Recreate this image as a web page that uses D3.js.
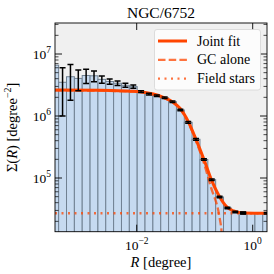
<!DOCTYPE html>
<html>
<head>
<meta charset="utf-8">
<script src="https://cdn.jsdelivr.net/npm/d3@7"></script>
<style>
  body { margin: 0; background: #fff; }
  text { font-family: "Liberation Serif", "DejaVu Serif", serif; fill: #000; }
</style>
</head>
<body>
<svg id="chart" width="274" height="274"></svg>
<script>
// bin centres R [degree] and measured surface density
const binR = [0.000386, 0.000527, 0.000721, 0.000984, 0.001343, 0.001837, 0.002506,
  0.00342, 0.004677, 0.006383, 0.00873, 0.01191, 0.01626, 0.02223, 0.03034, 0.0414,
  0.05662, 0.07727, 0.1054, 0.1442, 0.1968, 0.2685, 0.3673, 0.5012, 0.6839, 0.9354,
  1.276, 1.742];
const sigma = [6.6e6, 3.5e6, 4.3e6, 4.04e6, 4.5e6, 4.45e6, 3.9e6, 3.6e6, 3.38e6, 3.13e6,
  2.98e6, 2.47e6, 2.26e6, 2.12e6, 1.97e6, 1.7e6, 1.25e6, 7.91e5, 4.21e5, 1.99e5, 9.4e4,
  4.94e4, 3.28e4, 2.83e4, 2.72e4, 2.72e4, 2.72e4, 2.7e4];
const sigmaErr = [0, 2.5e6, 2.5e6, 1.48e6, 1.15e6, 0.87e6, 0.52e6, 0.34e6, 0.29e6, 0.23e6,
  0.18e6, 0.08e6, 0.07e6, 0.06e6, 0.06e6, 0.05e6, 0.04e6, 2.4e4, 1.3e4, 6e3, 2.8e3,
  1.5e3, 1e3, 8e2, 8e2, 8e2, 8e2, 8e2];

// model curves
const fitR = [3.9e-4, 2.33e-3, 7.66e-3, 0.0114, 0.01932, 0.02875, 0.04276, 0.0558, 0.07762,
  0.1052, 0.1429, 0.191, 0.2698, 0.3605, 0.4699, 0.6998, 1.766];
const jointFit = [2.62e6, 2.6e6, 2.51e6, 2.47e6, 2.26e6, 2.0e6, 1.66e6, 1.33e6, 8.09e5,
  4.21e5, 2.05e5, 9.75e4, 4.94e4, 3.4e4, 2.94e4, 2.72e4, 2.7e4];
const gcR = [3.9e-4, 2.33e-3, 7.66e-3, 0.0114, 0.01932, 0.02875, 0.04276, 0.0558, 0.07762,
  0.1052, 0.1429, 0.191, 0.2698, 0.29, 0.30, 0.31];
const gcAlone = [2.59e6, 2.57e6, 2.48e6, 2.44e6, 2.23e6, 1.97e6, 1.63e6, 1.3e6, 7.82e5,
  3.94e5, 1.78e5, 7.05e4, 2.24e4, 1.4e4, 9e3, 4e3];
const fieldStars = 2.7e4;

const xTicks = [1e-2, 1];
const yTicks = [1e5, 1e6, 1e7];
const legendItems = ["Joint fit", "GC alone", "Field stars"];

const m = { left: 55, right: 267, top: 23, bottom: 231.7 };
const svg = d3.select("#chart");

const x = d3.scaleLog().domain([Math.pow(10, -3.4086), Math.pow(10, 0.2466)]).range([m.left, m.right]);
const y = d3.scaleLog().domain([Math.pow(10, 4.134), Math.pow(10, 7.5)]).range([m.bottom, m.top]);

svg.append("defs").append("clipPath").attr("id", "clip")
  .append("rect").attr("x", m.left).attr("y", m.top)
  .attr("width", m.right - m.left).attr("height", m.bottom - m.top);

svg.append("rect").attr("x", m.left).attr("y", m.top)
  .attr("width", m.right - m.left).attr("height", m.bottom - m.top)
  .attr("fill", "#f0f0f0");

const plot = svg.append("g").attr("clip-path", "url(#clip)");

// bin edges halfway (in log) between the centres
const edges = binR.map((r, i) => {
  const prev = i > 0 ? binR[i - 1] : r * r / binR[i + 1];
  return Math.sqrt(prev * r);
});
const last = binR[binR.length - 1];
edges.push(Math.sqrt(last * last * last / binR[binR.length - 2]));

plot.selectAll(".bar").data(sigma).enter().append("rect")
  .attr("class", "bar")
  .attr("x", (d, i) => x(edges[i]))
  .attr("width", (d, i) => x(edges[i + 1]) - x(edges[i]))
  .attr("y", d => y(d))
  .attr("height", d => m.bottom + 5 - y(d))
  .attr("fill", "#c6daf0")
  .attr("stroke", "#708192")
  .attr("stroke-width", 1);

const line = (xs) => d3.line().x((d, i) => x(xs[i])).y(d => y(d)).curve(d3.curveMonotoneX);

plot.append("line")
  .attr("x1", m.left).attr("x2", m.right)
  .attr("y1", y(fieldStars)).attr("y2", y(fieldStars))
  .attr("stroke", "#ff4500").attr("stroke-opacity", 0.75)
  .attr("stroke-width", 2.3).attr("stroke-dasharray", "2,4.5");

plot.append("path").datum(gcAlone)
  .attr("d", line(gcR))
  .attr("fill", "none").attr("stroke", "#ff4500").attr("stroke-opacity", 0.75)
  .attr("stroke-width", 2.3).attr("stroke-dasharray", "7.5,3.2");

plot.append("path").datum(jointFit)
  .attr("d", line(fitR))
  .attr("fill", "none").attr("stroke", "#ff4500").attr("stroke-width", 3);

// error bars
const eb = plot.selectAll(".eb").data(sigma).enter().append("g").attr("class", "eb")
  .filter((d, i) => sigmaErr[i] > 0);
eb.each(function(d) {
  const i = sigma.indexOf(d);
  const g = d3.select(this);
  const cx = x(binR[i]);
  const lo = y(Math.max(d - sigmaErr[i], 1)), hi = y(d + sigmaErr[i]);
  g.append("line").attr("x1", cx).attr("x2", cx).attr("y1", lo).attr("y2", hi)
    .attr("stroke", "#000").attr("stroke-width", 1.5);
  [lo, hi].forEach(yy => g.append("line").attr("x1", cx - 3).attr("x2", cx + 3)
    .attr("y1", yy).attr("y2", yy).attr("stroke", "#000").attr("stroke-width", 1.5));
});

// axes frame
svg.append("rect").attr("x", m.left).attr("y", m.top)
  .attr("width", m.right - m.left).attr("height", m.bottom - m.top)
  .attr("fill", "none").attr("stroke", "#000").attr("stroke-width", 0.9);

const ticks = svg.append("g").attr("stroke", "#000");
xTicks.forEach(t => {
  const px = x(t);
  ticks.append("line").attr("x1", px).attr("x2", px).attr("y1", m.bottom).attr("y2", m.bottom - 7).attr("stroke-width", 0.9);
  ticks.append("line").attr("x1", px).attr("x2", px).attr("y1", m.top).attr("y2", m.top + 7).attr("stroke-width", 0.9);
  const exp = Math.round(Math.log10(t));
  const lab = svg.append("text").attr("x", px).attr("y", m.bottom + 18)
    .attr("text-anchor", "middle").attr("font-size", 13.5);
  lab.append("tspan").text("10");
  lab.append("tspan").attr("dy", -6).attr("font-size", 9.5).text(exp < 0 ? "\u2212" + (-exp) : exp);
});

const yMinor = [];
[4, 5, 6, 7].forEach(e => d3.range(2, 10).forEach(k => {
  const v = k * Math.pow(10, e);
  if (v > y.domain()[0] && v < y.domain()[1]) yMinor.push(v);
}));
yMinor.forEach(v => {
  const py = y(v);
  ticks.append("line").attr("x1", m.left).attr("x2", m.left + 3.5).attr("y1", py).attr("y2", py).attr("stroke-width", 0.7);
  ticks.append("line").attr("x1", m.right).attr("x2", m.right - 3.5).attr("y1", py).attr("y2", py).attr("stroke-width", 0.7);
});
yTicks.forEach(t => {
  const py = y(t);
  ticks.append("line").attr("x1", m.left).attr("x2", m.left + 7).attr("y1", py).attr("y2", py).attr("stroke-width", 0.9);
  ticks.append("line").attr("x1", m.right).attr("x2", m.right - 7).attr("y1", py).attr("y2", py).attr("stroke-width", 0.9);
  const exp = Math.round(Math.log10(t));
  const lab = svg.append("text").attr("x", m.left - 4).attr("y", py + 5)
    .attr("text-anchor", "end").attr("font-size", 13.5);
  lab.append("tspan").text("10");
  lab.append("tspan").attr("dy", -6).attr("font-size", 9.5).text(exp);
});

// title and axis labels
svg.append("text").attr("x", (m.left + m.right) / 2).attr("y", 18)
  .attr("text-anchor", "middle").attr("font-size", 15.5).text("NGC/6752");

const xl = svg.append("text").attr("x", (m.left + m.right) / 2).attr("y", 267)
  .attr("text-anchor", "middle").attr("font-size", 14.5);
xl.append("tspan").attr("font-style", "italic").text("R");
xl.append("tspan").text(" [degree]");

const yl = svg.append("text")
  .attr("transform", `translate(17,${(m.top + m.bottom) / 2}) rotate(-90)`)
  .attr("text-anchor", "middle").attr("font-size", 14.5);
yl.append("tspan").text("\u03a3(");
yl.append("tspan").attr("font-style", "italic").text("R");
yl.append("tspan").text(") [degree");
yl.append("tspan").attr("dy", -6).attr("font-size", 10).text("\u22122");
yl.append("tspan").attr("dy", 6).text("]");

// legend
const lg = svg.append("g");
lg.append("rect").attr("x", 154.5).attr("y", 29.5).attr("width", 106).attr("height", 60.5)
  .attr("rx", 2.5).attr("fill", "#fff").attr("fill-opacity", 0.8)
  .attr("stroke", "#d6d6d6").attr("stroke-width", 0.8);
const styles = [
  { dash: null, op: 1, w: 3 },
  { dash: "7.5,3.2", op: 0.75, w: 2.3 },
  { dash: "2,4.5", op: 0.75, w: 2.3 }
];
legendItems.forEach((name, i) => {
  const yy = 41 + i * 18.8;
  const l = lg.append("line").attr("x1", 158).attr("x2", 187).attr("y1", yy).attr("y2", yy)
    .attr("stroke", "#ff4500").attr("stroke-opacity", styles[i].op).attr("stroke-width", styles[i].w);
  if (styles[i].dash) l.attr("stroke-dasharray", styles[i].dash);
  lg.append("text").attr("x", 197).attr("y", yy + 4.5).attr("font-size", 14).text(name);
});
</script>
</body>
</html>
